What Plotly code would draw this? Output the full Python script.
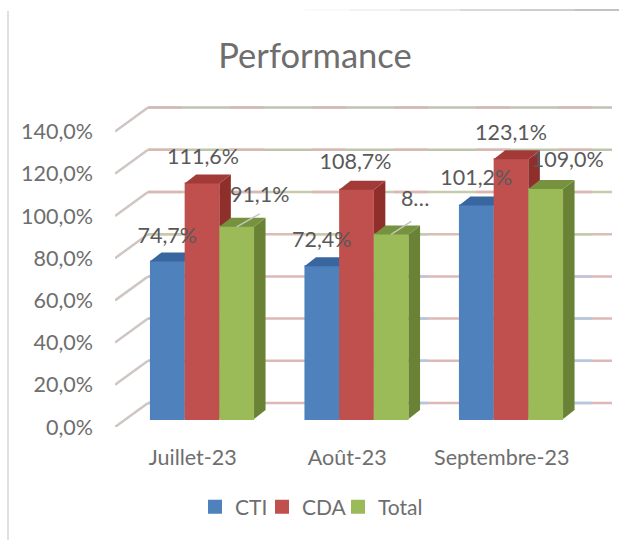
import plotly.graph_objects as go

categories = ["Juillet-23", "Août-23", "Septembre-23"]
series_names = ["CTI", "CDA", "Total"]
cti = [74.7, 72.4, 101.2]
cda = [111.6, 108.7, 123.1]
total = [91.1, 87.5, 109.0]
label_cti = ["74,7%", "72,4%", "101,2%"]
label_cda = ["111,6%", "108,7%", "123,1%"]
label_total = ["91,1%", "8…", "109,0%"]
y_ticks = [0, 20, 40, 60, 80, 100, 120, 140]
y_tick_labels = ["0,0%", "20,0%", "40,0%", "60,0%", "80,0%", "100,0%", "120,0%", "140,0%"]

# geometry of the fake 3D (pixels -> axis units)
W, H = 619, 540
PL, PR, PT, PB = 115, 612, 106, 427
PX_Y = 2.11
PX_X = 154.5
x_lo = (PL - 202) / PX_X
x_hi = (PR - 202) / PX_X
y_hi = (PB - PT) / PX_Y
BASE = 8 / PX_Y
DX = 11.5 / PX_X
DY = 9 / PX_Y
BAR = 34.7 / PX_X
WALL_DX = 33 / PX_X
WALL_DY = 24 / PX_Y

front = ["#4f81bd", "#c0504d", "#9bbb59"]
top = ["#3a66a0", "#a23a37", "#76923f"]
side = ["#38609a", "#8f2f2c", "#6a8236"]
INK = "#595959"
SOFT = "#6e6e6e"

wall_base = ["#dcb9b6", "#dcb9b6", "#dcb9b6", "#dcb9b6", "#d8bdb8", "#c6cbac", "#bfc5aa", "#c0c2b2"]
wall_tint = ["#b4c8e0", "#b4c8e0", "#b4c8e0", "#bfc5da", "#c6cbac", "#dcb6b3", "#d8b9b5", "#d4bab6"]
legend_left = [195, 262, 338]

fig = go.Figure()

for v, c, t in zip(y_ticks, wall_base, wall_tint):
    yb = v + WALL_DY
    fig.add_trace(go.Scatter(
        x=[x_lo, x_lo + WALL_DX], y=[v, yb], mode="lines",
        line=dict(color="#cfc6c3", width=2.5), hoverinfo="skip", showlegend=False,
        cliponaxis=False, zorder=0))
    fig.add_trace(go.Scatter(
        x=[x_lo + WALL_DX, x_hi], y=[yb, yb], mode="lines",
        line=dict(color=c, width=2.5), hoverinfo="skip", showlegend=False,
        cliponaxis=False, zorder=0))
    fig.add_trace(go.Scatter(
        x=[x_lo + WALL_DX, x_hi], y=[yb, yb], mode="lines",
        line=dict(color=t, width=2.5, dash="34px,48px"), hoverinfo="skip", showlegend=False,
        cliponaxis=False, zorder=0))

series = [cti, cda, total]
legend_ids = ["legend", "legend2", "legend3"]
for s, vals in enumerate(series):
    z = s + 1
    fig.add_trace(go.Bar(
        name=series_names[s], x=[0, 1, 2], y=vals, base=[BASE] * 3, legend=legend_ids[s],
        marker=dict(color=front[s], line=dict(width=2, color=front[s])),
        width=BAR - 2 / PX_X, offset=(s - 1.5) * BAR + 1 / PX_X, zorder=z, hoverinfo="skip"))
    for g, v in enumerate(vals):
        x0 = g + (s - 1.5) * BAR
        x1 = x0 + BAR
        yt = BASE + v
        fig.add_trace(go.Scatter(
            x=[x1, x1 + DX, x1 + DX, x1, x1],
            y=[BASE, BASE + DY, yt + DY, yt, BASE],
            mode="lines", fill="toself", fillcolor=side[s], line=dict(width=0),
            hoverinfo="skip", showlegend=False, zorder=z))
        fig.add_trace(go.Scatter(
            x=[x0, x0 + DX, x1 + DX, x1, x0],
            y=[yt, yt + DY, yt + DY, yt, yt],
            mode="lines", fill="toself", fillcolor=top[s], line=dict(width=0),
            hoverinfo="skip", showlegend=False, zorder=z))

# leader lines for the two displaced labels
for g, reach in ((0, 23), (1, 20)):
    yt = BASE + total[g]
    xc = g + BAR
    fig.add_trace(go.Scatter(
        x=[xc, xc + reach / PX_X],
        y=[yt, yt + 13 / PX_Y], mode="lines",
        line=dict(color="#c4c4c4", width=1.5), hoverinfo="skip",
        showlegend=False, zorder=4))

# data labels: (dx, dy) pixels from the top-centre of each bar's front face
nudges = [
    [(0, 24), (0, 25), (0, 26)],
    [(1, 25), (-1, 26), (0, 25)],
    [(23, 30), (24, 34), (22, 27)],
]
labels = [label_cti, label_cda, label_total]
for s, vals in enumerate(series):
    tx, ty = [], []
    for g, v in enumerate(vals):
        nx, ny = nudges[s][g]
        tx.append(g + (s - 1) * BAR + nx / PX_X)
        ty.append(BASE + v + ny / PX_Y)
    fig.add_trace(go.Scatter(
        x=tx, y=ty, mode="text", text=labels[s], textposition="middle center",
        textfont=dict(family="Lato", size=21.5, color=INK), hoverinfo="skip",
        showlegend=False, cliponaxis=False, zorder=5))

def px_x(p):
    return (p - PL) / (PR - PL)

def px_y(p):
    return (PB - p) / (PB - PT)

top_rule = [(305, 350, "#f4f4f4"), (350, 400, "#e6e6e6"), (400, 460, "#cfcfcf"),
            (460, 520, "#b4b4b4"), (520, 575, "#9c9c9c"), (575, 619, "#858585")]
shapes = [dict(type="line", xref="paper", yref="paper", x0=px_x(8), x1=px_x(8),
               y0=px_y(11), y1=px_y(540), line=dict(color="#e0e0e0", width=2))]
for a, b, c in top_rule:
    shapes.append(dict(type="line", xref="paper", yref="paper", x0=px_x(a), x1=px_x(b),
                       y0=px_y(10), y1=px_y(10), line=dict(color=c, width=1)))

def one_legend(left):
    return dict(orientation="h", x=left / W, xanchor="left", y=1 - 507 / H, yanchor="middle",
                yref="container", xref="container",
                font=dict(family="Lato", size=21, color=SOFT), bgcolor="rgba(0,0,0,0)")

fig.update_layout(
    width=W, height=H, autosize=False,
    margin=dict(l=PL, r=W - PR, t=PT, b=H - PB),
    paper_bgcolor="white", plot_bgcolor="white",
    barmode="overlay",
    font=dict(family="Lato", color=SOFT, size=21),
    title=dict(text="Performance", x=315 / W, xanchor="center", y=1 - 56 / H, yanchor="middle",
               font=dict(family="Lato", size=34.5, color=SOFT)),
    xaxis=dict(range=[x_lo, x_hi], tickmode="array", tickvals=[-0.06, 0.94, 1.94],
               ticktext=categories, showgrid=False, zeroline=False, showline=False,
               ticks="", ticklabelstandoff=15,
               tickfont=dict(family="Lato", size=21.5, color=SOFT)),
    yaxis=dict(range=[0, y_hi], tickmode="array", tickvals=y_ticks, ticktext=y_tick_labels,
               showgrid=False, zeroline=False, showline=False, ticks="", ticklabelstandoff=21,
               tickfont=dict(family="Lato", size=21.5, color=SOFT)),
    legend=one_legend(legend_left[0]),
    legend2=one_legend(legend_left[1]),
    legend3=one_legend(legend_left[2]),
    shapes=shapes,
)

fig.write_html("out.html", config={"displayModeBar": False},
               post_script="document.body.style.margin='0';window.dispatchEvent(new Event('resize'));")
